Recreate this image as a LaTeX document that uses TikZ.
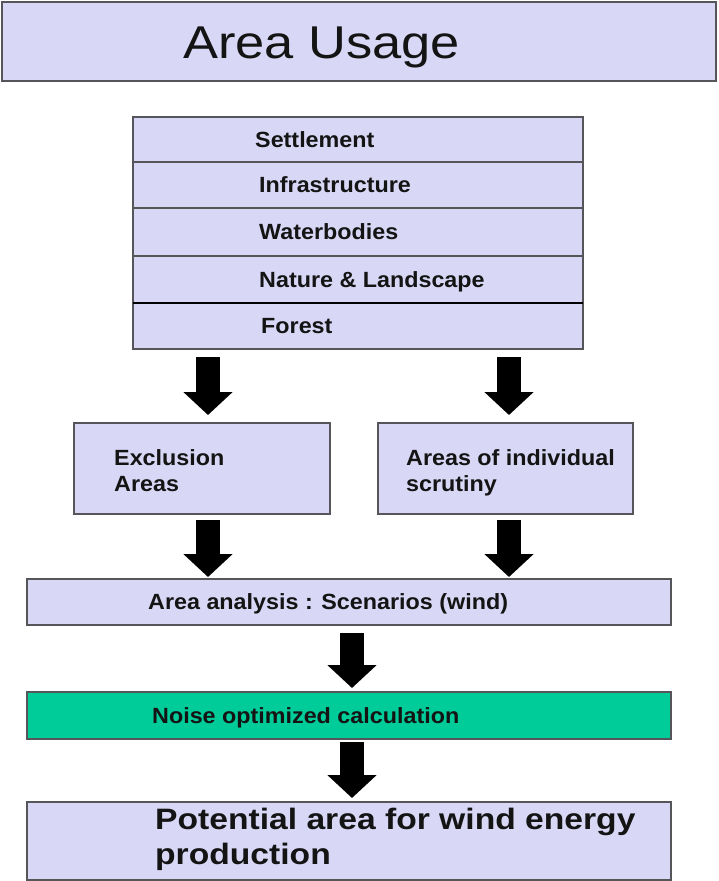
\documentclass[tikz,border=0pt]{standalone}
\usepackage{fontspec}
\setmainfont{Liberation Sans}[FakeStretch=1.14]
\newfontfamily\lblfont{Liberation Sans}[FakeStretch=1.06]
\usetikzlibrary{arrows.meta}
\definecolor{lav}{RGB}{216,216,246}
\definecolor{grn}{RGB}{0,204,153}
\definecolor{edge}{RGB}{85,85,90}
\definecolor{ink}{RGB}{20,20,20}
\tikzset{
  box/.style={draw=edge, line width=1.4pt, fill=lav, anchor=north west, inner sep=0pt, outer sep=0pt},
  gbox/.style={box, fill=grn},
  lbl/.style={anchor=base west, inner sep=0pt, text=ink, font=\lblfont\fontsize{22}{26}\selectfont\bfseries},
  blk/.style={line width=24pt, black, -{Triangle[width=48pt,length=23pt]}}
}
\begin{document}
\begin{tikzpicture}[x=1pt,y=-1pt]
\useasboundingbox (0,0) rectangle (718,881);
% title
\node[box, line width=2pt, minimum width=714pt, minimum height=79pt] (title) at (2,2) {};
\node[anchor=base west, inner sep=0pt, text=ink, font=\fontsize{46}{52}\selectfont] (titletxt) at (183,58) {Area Usage};
% stack
\node[box, minimum width=450pt, minimum height=45pt] (settle) at (133,117) {};
\node[box, minimum width=450pt, minimum height=46pt] (infra) at (133,162) {};
\node[box, minimum width=450pt, minimum height=48pt] (water) at (133,208) {};
\node[box, minimum width=450pt, minimum height=47pt] (nature) at (133,256) {};
\node[box, minimum width=450pt, minimum height=46pt] (forest) at (133,303) {};
\draw[line width=1.6pt, black] (nature.south west) -- (nature.south east);
\node[lbl] (t1) at (255,147.3) {Settlement};
\node[lbl] (t2) at (259,192.8) {Infrastructure};
\node[lbl] (t3) at (259,239.8) {Waterbodies};
\node[lbl] (t4) at (259,287.3) {Nature \& Landscape};
\node[lbl] (t5) at (261,333.8) {Forest};
% middle boxes
\node[box, minimum width=256pt, minimum height=91pt] (excl) at (74,423) {};
\node[lbl] (e1) at (114,465) {Exclusion};
\node[lbl] (e2) at (114,491) {Areas};
\node[box, minimum width=255pt, minimum height=91pt] (indiv) at (378,423) {};
\node[lbl] (i1) at (406,465) {Areas of individual};
\node[lbl] (i2) at (406,491) {scrutiny};
% analysis
\node[box, minimum width=644pt, minimum height=46pt] (anal) at (27,579) {};
\node[lbl] (a1) at (148,609.5) {Area analysis : Scenarios (wind)};
\node[gbox, minimum width=644pt, minimum height=47pt] (noise) at (27,692) {};
\node[lbl] (n1) at (152,723.5) {Noise optimized calculation};
\node[box, minimum width=644pt, minimum height=78pt] (pot) at (27,802) {};
\node[anchor=base west, inner sep=0pt, text=ink, font=\fontsize{29.5}{35}\selectfont\bfseries] (p1) at (155,829) {Potential area for wind energy};
\node[anchor=base west, inner sep=0pt, text=ink, font=\fontsize{29.5}{35}\selectfont\bfseries] (p2) at (155,864) {production};
% arrows
\draw[blk] ([yshift=-8pt]forest.south -| 208,0) -- ([yshift=8pt]excl.north -| 208,0);
\draw[blk] ([yshift=-8pt]forest.south -| 509,0) -- ([yshift=8pt]indiv.north -| 509,0);
\draw[blk] ([yshift=-6pt]excl.south -| 208,0) -- ([yshift=2pt]anal.north -| 208,0);
\draw[blk] ([yshift=-6pt]indiv.south -| 509,0) -- ([yshift=2pt]anal.north -| 509,0);
\draw[blk] ([yshift=-8pt]anal.south -| 352,0) -- ([yshift=4pt]noise.north -| 352,0);
\draw[blk] ([yshift=-3pt]noise.south -| 352,0) -- ([yshift=4pt]pot.north -| 352,0);
\end{tikzpicture}
\end{document}
